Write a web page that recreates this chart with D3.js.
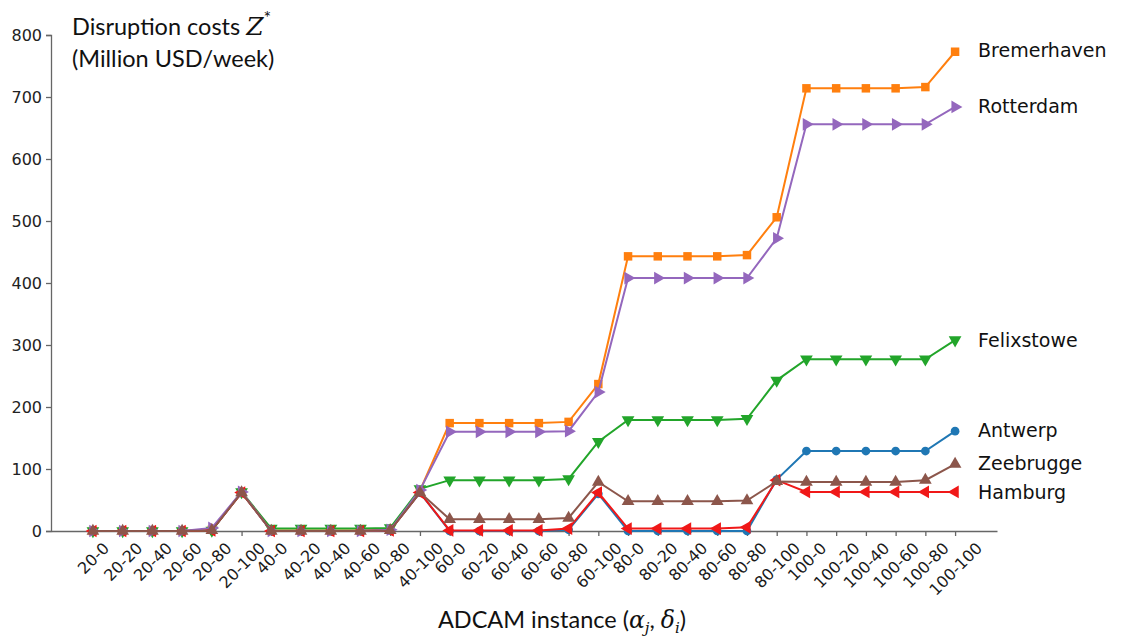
<!DOCTYPE html>
<html>
<head>
<meta charset="utf-8">
<script src="https://cdn.jsdelivr.net/npm/d3@7"></script>
<style>
  body { margin: 0; background: #fff; }
  svg { display: block; }
</style>
</head>
<body>
<svg id="chart" width="1137" height="641"></svg>
<script>
// instances (alpha-delta)
const instances = [
  "20-0", "20-20", "20-40", "20-60", "20-80", "20-100",
  "40-0", "40-20", "40-40", "40-60", "40-80", "40-100",
  "60-0", "60-20", "60-40", "60-60", "60-80", "60-100",
  "80-0", "80-20", "80-40", "80-60", "80-80", "80-100",
  "100-0", "100-20", "100-40", "100-60", "100-80", "100-100"
];
const yTicks = [0, 100, 200, 300, 400, 500, 600, 700, 800];

// ports, in plotting order
const ports = ["Antwerp", "Bremerhaven", "Felixstowe", "Hamburg", "Rotterdam", "Zeebrugge"];

const antwerp     = [0, 0, 0, 0, 1, 62,  0, 0, 0, 0, 1, 62,  0, 0, 0, 0, 2, 60,  0, 0, 0, 0, 0, 83,  129, 129, 129, 129, 129, 161];
const bremerhaven = [0, 0, 0, 0, 2, 62,  1, 1, 1, 1, 2, 65,  174, 174, 174, 174, 176, 237,  443, 443, 443, 443, 445, 506,  714, 714, 714, 714, 716, 773];
const felixstowe  = [0, 0, 0, 0, 1, 63,  4, 4, 4, 4, 5, 68,  82, 82, 82, 82, 84, 144,  179, 179, 179, 179, 181, 243,  277, 277, 277, 277, 277, 308];
const hamburg     = [0, 0, 0, 0, 1, 62,  0, 0, 0, 0, 1, 62,  1, 1, 1, 1, 4, 62,  4, 4, 4, 4, 6, 82,  63, 63, 63, 63, 63, 63];
const rotterdam   = [0, 0, 0, 0, 5, 63,  0, 0, 0, 0, 2, 66,  160, 160, 160, 160, 161, 224,  408, 408, 408, 408, 408, 472,  656, 656, 656, 656, 656, 684];
const zeebrugge   = [0, 0, 0, 0, 1, 62,  0, 0, 0, 0, 1, 62,  19, 19, 19, 19, 21, 79,  48, 48, 48, 48, 49, 80,  79, 79, 79, 79, 82, 108];

const seriesValues = [antwerp, bremerhaven, felixstowe, hamburg, rotterdam, zeebrugge];
const colors  = ["#1f77b4", "#ff7f0e", "#22a52a", "#f01818", "#9467bd", "#8c564b"];
const symbols = ["circle", "square", "down", "left", "right", "up"];
// label y positions, spread out where end labels would collide
const labelY  = { Antwerp: 430, Bremerhaven: 50, Felixstowe: 340, Hamburg: 492, Rotterdam: 106, Zeebrugge: 463 };

const svg = d3.select("#chart");

const plotLeft = 51, plotRight = 997, plotTop = 35, plotBottom = 531;

const x = d3.scalePoint()
    .domain(instances)
    .range([plotLeft, plotRight])
    .padding(1.41);

const y = d3.scaleLinear()
    .domain([0, 800])
    .range([plotBottom, plotTop]);

// y axis
const yAxis = svg.append("g")
    .attr("transform", `translate(${plotLeft},0)`)
    .call(d3.axisLeft(y).tickValues(yTicks).tickSize(5).tickPadding(4));
yAxis.select(".domain").attr("stroke", "#666").attr("stroke-width", 1.3);
yAxis.selectAll(".tick line").attr("stroke", "#666").attr("stroke-width", 1.3);
yAxis.selectAll(".tick text")
    .attr("font-family", "DejaVu Sans")
    .attr("font-size", 16)
    .attr("fill", "#222");

// x axis
const xAxis = svg.append("g")
    .attr("transform", `translate(0,${plotBottom})`)
    .call(d3.axisBottom(x).tickSize(5).tickSizeOuter(0));
xAxis.select(".domain").attr("stroke", "#666").attr("stroke-width", 1.3);
xAxis.selectAll(".tick line").attr("stroke", "#666").attr("stroke-width", 1.3);
xAxis.selectAll(".tick text")
    .attr("font-family", "DejaVu Sans")
    .attr("font-size", 16)
    .attr("fill", "#1a1a1a")
    .attr("text-anchor", "middle")
    .attr("dy", "0.35em")
    .each(function () {
        // rotated 45deg, bounding box centered on the tick, top just below it
        const w = this.getComputedTextLength();
        const h = 12;
        const half = (w + h) * Math.SQRT1_2 / 2;
        d3.select(this)
            .attr("y", null)
            .attr("transform", `translate(0,${10 + half}) rotate(-45)`);
    });

function markerPath(kind) {
    if (kind === "circle") return d3.symbol(d3.symbolCircle, 60)();
    if (kind === "square") return d3.symbol(d3.symbolSquare, 72)();
    return d3.symbol(d3.symbolTriangle, 70)();
}
function markerRotate(kind) {
    return { down: 180, left: -90, right: 90 }[kind] || 0;
}

const line = d3.line()
    .x((d, i) => x(instances[i]))
    .y(d => y(d));

ports.forEach((port, k) => {
    const vals = seriesValues[k];
    const g = svg.append("g");
    g.append("path")
        .datum(vals)
        .attr("d", line)
        .attr("fill", "none")
        .attr("stroke", colors[k])
        .attr("stroke-width", 2);
    g.selectAll("path.mk")
        .data(vals)
        .join("path")
        .attr("class", "mk")
        .attr("d", markerPath(symbols[k]))
        .attr("fill", colors[k])
        .attr("transform", (d, i) => `translate(${x(instances[i])},${y(d)}) rotate(${markerRotate(symbols[k])})`);
});

// end labels
svg.append("g")
    .selectAll("text")
    .data(ports)
    .join("text")
    .attr("x", x(instances[instances.length - 1]) + 23)
    .attr("y", d => labelY[d])
    .attr("dy", "0.35em")
    .attr("font-family", "DejaVu Sans")
    .attr("font-size", 19)
    .attr("fill", "#111")
    .text(d => d);

// y title
const yt = svg.append("text")
    .attr("x", 72)
    .attr("y", 35)
    .attr("font-family", "Lato, 'Open Sans', sans-serif")
    .attr("font-size", 23.5)
    .attr("fill", "#111");
yt.append("tspan").text("Disruption costs ");
yt.append("tspan").attr("font-family", "'DejaVu Serif', serif").attr("font-style", "italic").attr("font-size", 25).text("Z");
yt.append("tspan").attr("font-size", 18).attr("dy", -11).text("*");
svg.append("text")
    .attr("x", 72)
    .attr("y", 67)
    .attr("font-family", "Lato, 'Open Sans', sans-serif")
    .attr("font-size", 23.5)
    .attr("fill", "#111")
    .text("(Million USD/week)");

// x title
const xt = svg.append("text")
    .attr("x", 562)
    .attr("y", 628)
    .attr("text-anchor", "middle")
    .attr("font-family", "Lato, 'Open Sans', sans-serif")
    .attr("font-size", 23.5)
    .attr("fill", "#111");
xt.append("tspan").text("ADCAM instance (");
xt.append("tspan").attr("font-family", "'DejaVu Serif', serif").attr("font-style", "italic").text("α");
xt.append("tspan").attr("font-family", "'DejaVu Serif', serif").attr("font-style", "italic").attr("font-size", 15).attr("dy", 5).text("j");
xt.append("tspan").attr("dy", -5).text(", ");
xt.append("tspan").attr("font-family", "'DejaVu Serif', serif").attr("font-style", "italic").text("δ");
xt.append("tspan").attr("font-family", "'DejaVu Serif', serif").attr("font-style", "italic").attr("font-size", 15).attr("dy", 5).text("i");
xt.append("tspan").attr("dy", -5).text(")");
</script>
</body>
</html>
